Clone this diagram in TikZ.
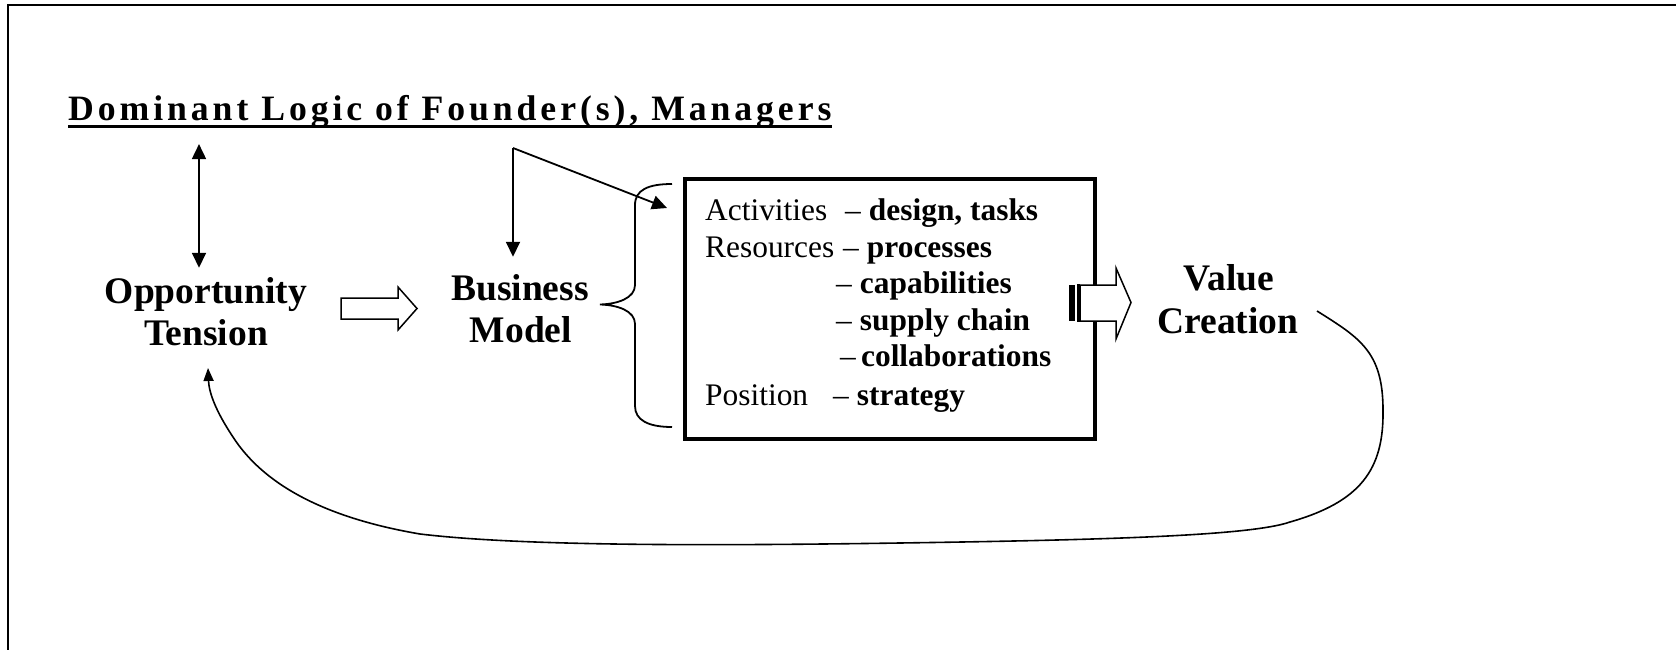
\documentclass[tikz,border=0pt]{standalone}
\usepackage{fontspec}
\setmainfont{Liberation Serif}
\newfontfamily\titlefont[LetterSpace=11]{Liberation Serif}
\usetikzlibrary{arrows.meta,calc}
\begin{document}
\begin{tikzpicture}[x=1pt,y=-1pt,
  lbl/.style={inner sep=0pt, anchor=base, font=\fontsize{37.5}{42}\selectfont\bfseries},
  boxtxt/.style={inner sep=0pt, anchor=base west, font=\fontsize{31.4}{37}\selectfont},
  conn/.style={line width=1.8pt},
  hollow/.style={line width=1.5pt, fill=white, line join=miter}
]
\useasboundingbox (0,0) rectangle (1676,650);
% frame (left and top visible)
\draw[line width=1.2pt] (8,650) -- (8,5) -- (1676,5);

% title
\node[inner sep=0pt, anchor=base west, font=\titlefont\fontsize{35.7}{40}\selectfont\bfseries] (title) at (68,121) {Dominant Logic of Founder(s), Managers};
\draw[line width=3pt] ([yshift=-6pt]title.base west) -- ([yshift=-6pt]title.base east);

% main labels
\node[lbl] (opp1) at (206,303) {Opportunity};
\node[lbl] (opp2) at (206,345) {Tension};
\node[lbl] (bus1) at (520,300) {Business};
\node[lbl] (bus2) at (521,342) {Model};
\node[lbl] (val1) at (1229,290) {Value};
\node[lbl] (val2) at (1228,333) {Creation};

% box
\node[draw, line width=3.5pt, minimum width=410pt, minimum height=260pt, inner sep=0pt, anchor=north west] (box) at (683,177) {};
\node[boxtxt] (act) at (705,220) {Activities};
\node[boxtxt] (actd) at (845,220) {– \textbf{design, tasks}};
\node[boxtxt] (res) at (705,257) {Resources};
\node[boxtxt] (resd) at (843,257) {– \textbf{processes}};
\node[boxtxt] (cap) at (836,293) {– \textbf{capabilities}};
\node[boxtxt] (sup) at (836,330) {– \textbf{supply chain}};
\node[boxtxt] (col) at (840,366) {–\hspace{5pt}\textbf{collaborations}};
\node[boxtxt] (pos) at (705,405) {Position};
\node[boxtxt] (posd) at (833,405) {– \textbf{strategy}};

% double arrow title <-> opportunity
\draw[conn, {Triangle[length=15pt,width=14pt]}-{Triangle[length=15pt,width=14pt]}, shorten <=15pt, shorten >=9pt]
  ([xshift=-7pt]opp1.north |- title.south) -- ([xshift=-7pt]opp1.north);

% split arrow from title to business model and to box
\coordinate (split) at (513,148);
\coordinate (acttip) at (667,208);
\draw[conn, -{Triangle[length=15pt,width=14pt]}, shorten >=17pt] (split) -- (split |- bus1.north);
\draw[conn, -{Triangle[length=15pt,width=14pt]}] (split) -- (acttip);

% brace
\draw[line width=1.8pt] (672,184) .. controls (648,184) and (635,190) .. (635,205) -- (635,285)
  .. controls (635,298) and (618,304) .. (600,304.5)
  .. controls (618,305) and (635,311) .. (635,324) -- (635,406)
  .. controls (635,420) and (648,427) .. (672,427);

% hollow arrow opportunity -> business
\draw[hollow] (341,298) -- (398,298) -- (398,287) -- (417,308.5) -- (398,330) -- (398,319) -- (341,319) -- cycle;

% striped hollow arrow box -> value creation
\draw[hollow] (1080,285) -- (1116,285) -- (1116,268) -- (1131,302.5) -- (1116,339) -- (1116,321) -- (1080,321) -- cycle;
\fill (1069,285) rectangle (1075,321);
\fill (1077,284.25) rectangle (1080,321.75);

% feedback loop
\coordinate (fbstart) at (1317,311);
\coordinate (fbend) at (208,368);
\draw[line width=1.6pt, -{Triangle[length=13pt,width=10pt]}] (fbstart)
  .. controls (1360,338) and (1383,352) .. (1383,410)
  .. controls (1384,470) and (1360,502) .. (1290,522)
  .. controls (1250,536) and (1100,540) .. (900,543)
  .. controls (700,546) and (520,546) .. (420,534)
  .. controls (320,517) and (262,482) .. (233,437)
  .. controls (215,410) and (209,392) .. (fbend);
\end{tikzpicture}
\end{document}
